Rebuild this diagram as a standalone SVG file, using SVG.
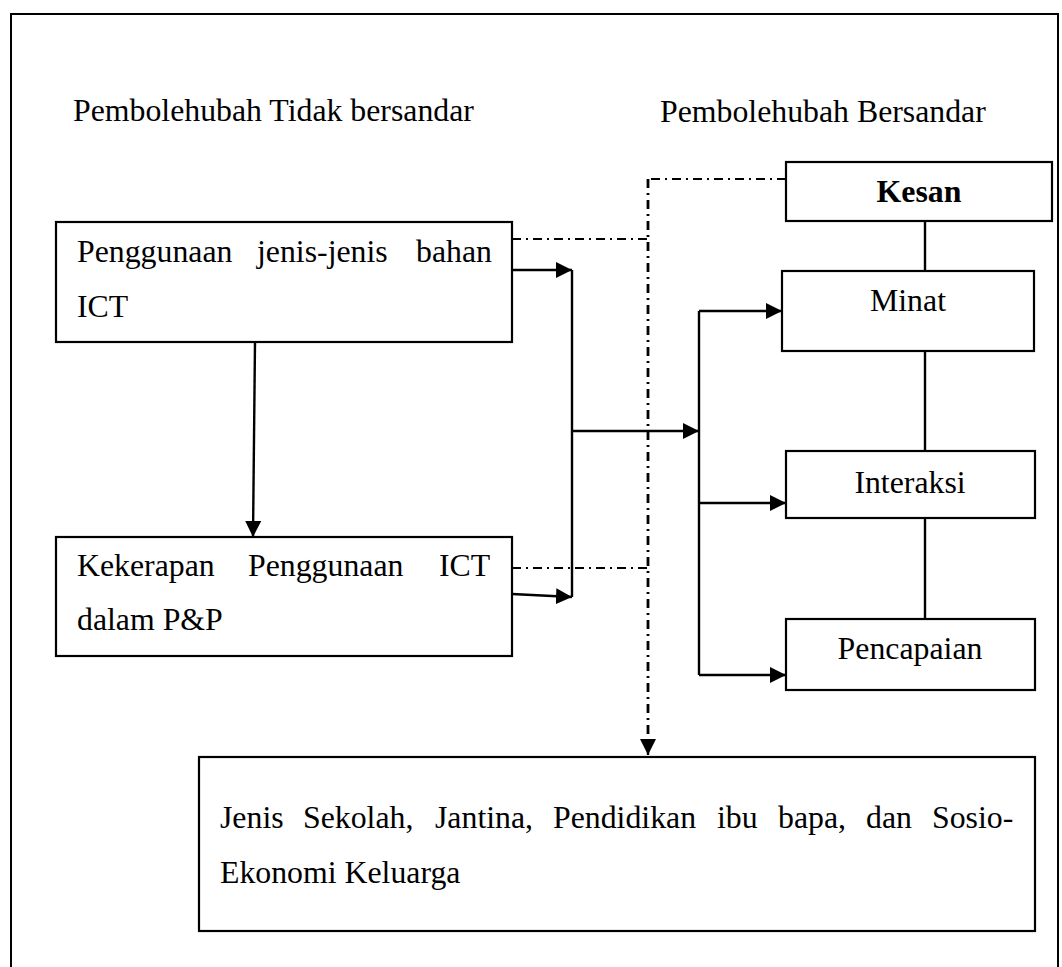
<svg xmlns="http://www.w3.org/2000/svg" width="1062" height="967" viewBox="0 0 1062 967">
<defs>
<style>
.box{fill:#fff;stroke:#000;stroke-width:2.2}
.t{font-family:"Liberation Serif","Times New Roman",serif;font-size:31.8px;fill:#000}
.c{text-anchor:middle}
.b{font-weight:bold}
.ln{fill:none;stroke:#000;stroke-width:2.4}
.dd{fill:none;stroke:#000;stroke-width:2.2;stroke-dasharray:9 5 2 5}
.dv{fill:none;stroke:#000;stroke-width:2.8;stroke-dasharray:9 5 2 5}
</style>
<marker id="ah" viewBox="0 0 16 16" refX="16" refY="8" markerWidth="16" markerHeight="16" markerUnits="userSpaceOnUse" orient="auto">
<path d="M0,0 L16,8 L0,16 Z" fill="#000"/>
</marker>
</defs>
<rect x="0" y="0" width="1062" height="967" fill="#fff"/>
<path d="M11,967 V14 H1058 V967" fill="none" stroke="#000" stroke-width="2"/>
<g id="headers">
<text class="t" x="73" y="121">Pembolehubah Tidak bersandar</text>
<text class="t" x="660" y="122">Pembolehubah Bersandar</text>
</g>
<g id="connectors">
<path class="dd" d="M786,179 H648"/>
<path class="dv" d="M648,179 V742"/>
<path class="dd" d="M512,239 H648"/>
<path class="dd" d="M512,568 H648"/>
<path d="M648,740 V755" class="ln" marker-end="url(#ah)"/>
<line class="ln" x1="255" y1="342" x2="253" y2="537" marker-end="url(#ah)"/>
<line class="ln" x1="512" y1="270" x2="572" y2="270" marker-end="url(#ah)"/>
<line class="ln" x1="512" y1="594" x2="572" y2="597" marker-end="url(#ah)"/>
<line class="ln" x1="572" y1="270" x2="572" y2="597"/>
<line class="ln" x1="572" y1="431" x2="699" y2="431" marker-end="url(#ah)"/>
<line class="ln" x1="699" y1="311" x2="699" y2="675"/>
<line class="ln" x1="699" y1="311" x2="782" y2="311" marker-end="url(#ah)"/>
<line class="ln" x1="699" y1="503" x2="786" y2="503" marker-end="url(#ah)"/>
<line class="ln" x1="699" y1="675" x2="786" y2="675" marker-end="url(#ah)"/>
<line class="ln" x1="925" y1="221" x2="925" y2="271"/>
<line class="ln" x1="925" y1="351" x2="925" y2="451"/>
<line class="ln" x1="925" y1="518" x2="925" y2="619"/>
</g>
<g id="node-penggunaan">
<rect class="box" x="56" y="222" width="456" height="120"/>
<text class="t" y="262"><tspan x="77">Penggunaan</tspan><tspan x="257">jenis-jenis</tspan><tspan x="416">bahan</tspan></text>
<text class="t" x="77" y="317">ICT</text>
</g>
<g id="node-kekerapan">
<rect class="box" x="56" y="537" width="456" height="119"/>
<text class="t" y="576"><tspan x="77">Kekerapan</tspan><tspan x="248">Penggunaan</tspan><tspan x="439">ICT</tspan></text>
<text class="t" x="77" y="630">dalam P&amp;P</text>
</g>
<g id="node-kesan">
<rect class="box" x="786" y="162" width="266" height="59"/>
<text class="t c b" x="919" y="202">Kesan</text>
</g>
<g id="node-minat">
<rect class="box" x="782" y="271" width="252" height="80"/>
<text class="t c" x="908" y="311">Minat</text>
</g>
<g id="node-interaksi">
<rect class="box" x="786" y="451" width="249" height="67"/>
<text class="t c" x="910" y="493">Interaksi</text>
</g>
<g id="node-pencapaian">
<rect class="box" x="786" y="619" width="249" height="71"/>
<text class="t c" x="910" y="659">Pencapaian</text>
</g>
<g id="node-faktor">
<rect class="box" x="199" y="757" width="836" height="174"/>
<text class="t" y="828"><tspan x="220">Jenis</tspan><tspan x="303">Sekolah,</tspan><tspan x="435">Jantina,</tspan><tspan x="553">Pendidikan</tspan><tspan x="717">ibu</tspan><tspan x="778">bapa,</tspan><tspan x="866">dan</tspan><tspan x="932">Sosio-</tspan></text>
<text class="t" x="220" y="883">Ekonomi Keluarga</text>
</g>
</svg>
